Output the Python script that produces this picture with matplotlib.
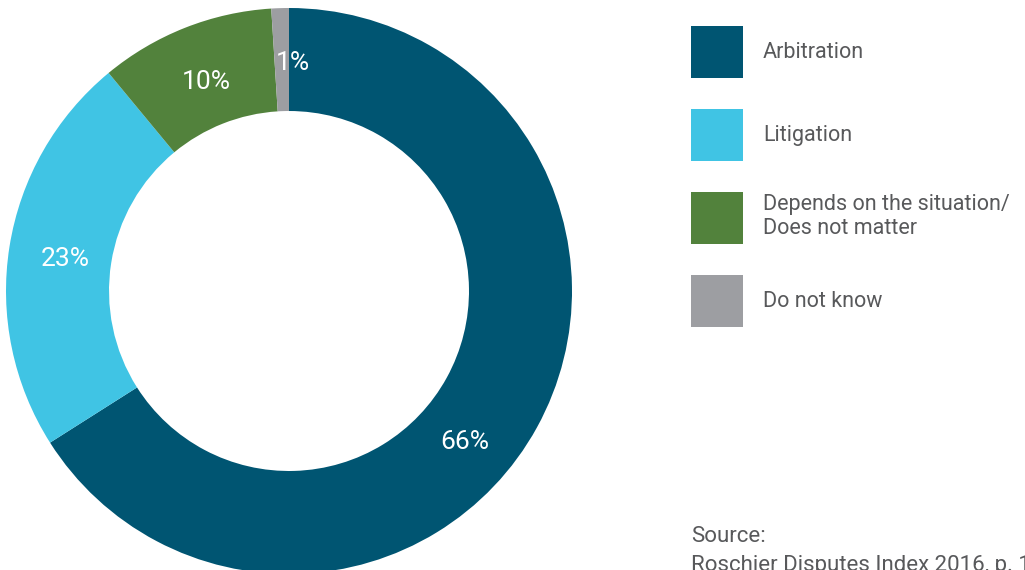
import matplotlib
matplotlib.use("Agg")
import matplotlib.pyplot as plt
from matplotlib.patches import Patch
import numpy as np

categories = ["Arbitration", "Litigation", "Depends on the situation/\nDoes not matter", "Do not know"]
values = [66, 23, 10, 1]
pct_labels = ["66%", "23%", "10%", "1%"]
colors = ["#005572", "#40C4E4", "#52823C", "#9D9EA2"]

plt.rcParams['font.family'] = ['Roboto', 'DejaVu Sans']
text_color = "#58595B"

W, H = 1025, 570
fig = plt.figure(figsize=(W / 100, H / 100), dpi=100)
fig.patch.set_facecolor("white")

# donut axes: center (289, 291) px, radius 283 px
cx, cy, R = 289, 291, 283
ax = fig.add_axes([(cx - R) / W, (H - cy - R) / H, 2 * R / W, 2 * R / H])
wedges, _ = ax.pie(values, colors=colors, startangle=90, counterclock=False,
                   radius=1, wedgeprops=dict(width=0.364, linewidth=0))
ax.set_xlim(-1, 1)
ax.set_ylim(-1, 1)
ax.axis("off")

label_angles = [-40.6, 172.0, 111.6, 89.0]
label_r = [0.82, 0.80, 0.795, 0.805]
for lab, ang, r in zip(pct_labels, label_angles, label_r):
    a = np.deg2rad(ang)
    ax.text(r * np.cos(a), r * np.sin(a), lab, ha="center", va="center",
            color="white", fontsize=19)

fs = 15.5
fs_px = fs * 100 / 72
box = 52 / fs_px
hh = (box - 0.245) / 0.65
handles = [Patch(facecolor=c, edgecolor="none") for c in colors]
leg = fig.legend(handles, categories, loc="upper left",
                 bbox_to_anchor=(691 / W, 1 - 26 / H), frameon=False,
                 borderpad=0, borderaxespad=0, fontsize=fs,
                 handlelength=box, handleheight=hh, handletextpad=20 / fs_px,
                 labelspacing=31 / fs_px, labelcolor=text_color)

fig.text(691 / W, 1 - 537 / H, "Source:", fontsize=16, color=text_color,
         ha="left", va="center")
fig.text(691 / W, 1 - 566 / H, "Roschier Disputes Index 2016, p. 17", fontsize=16,
         color=text_color, ha="left", va="center")

fig.savefig("out.png", dpi=100)
